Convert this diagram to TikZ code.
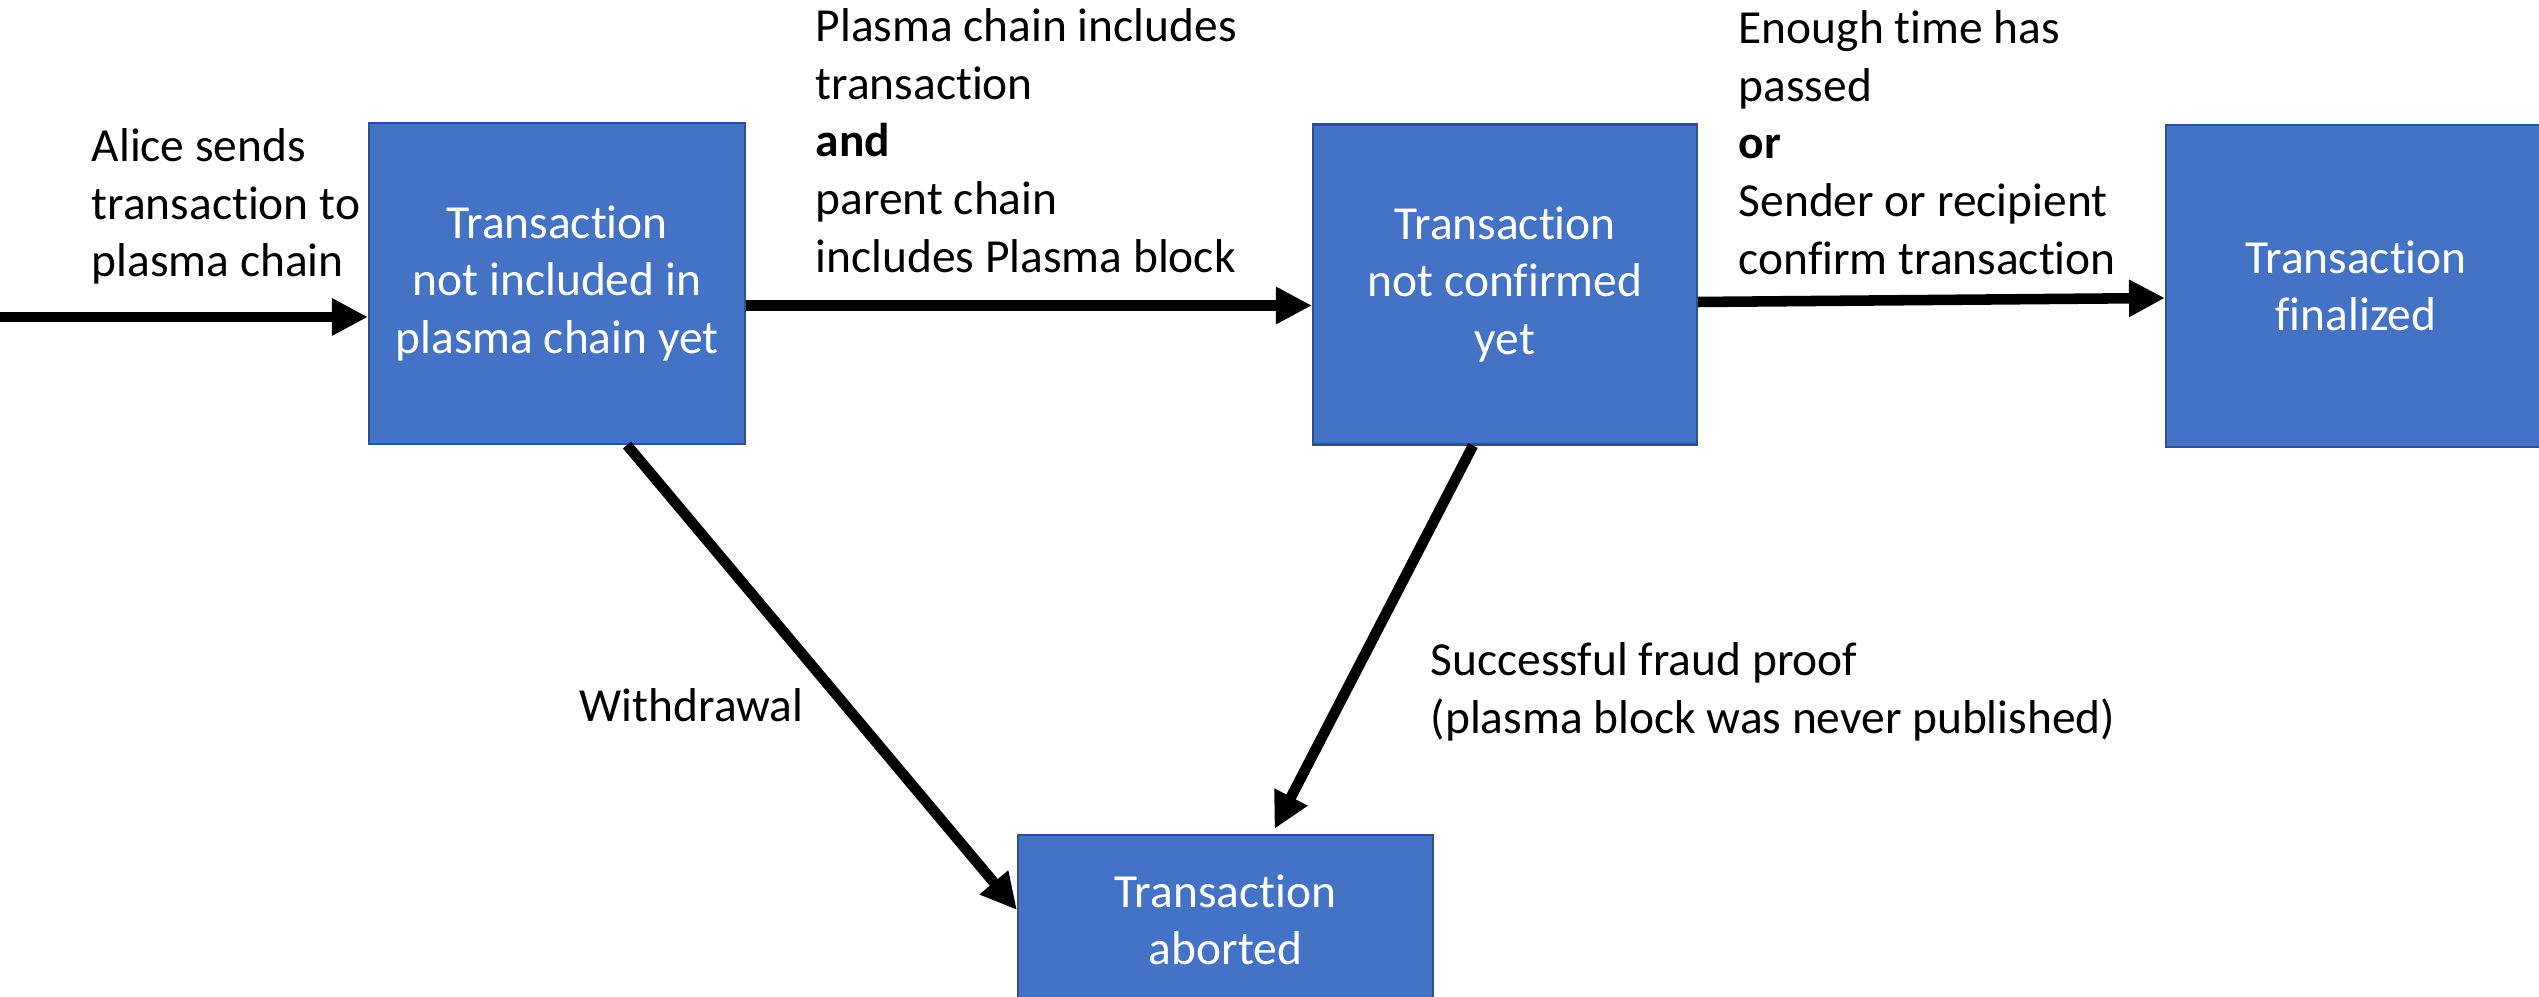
\documentclass[tikz,border=0pt]{standalone}
\usepackage{fontspec}
\setmainfont{Carlito}[Ligatures={NoCommon}]
\usetikzlibrary{arrows.meta}
\definecolor{ink}{HTML}{000000}
\definecolor{statebg}{HTML}{4472C4}
\definecolor{stateline}{HTML}{2F528F}

\begin{document}
\begin{tikzpicture}[x=1cm,y=-1cm,text=ink,
  state/.style={draw=stateline,fill=statebg,line width=.6pt,text=white,
    align=center,inner sep=2pt,font=\fontsize{13.5}{16.4}\selectfont},
  cond/.style={anchor=north west,align=left,inner sep=0pt,
    font=\fontsize{13.5}{16.4}\selectfont},
  flow/.style={-{Triangle[length=3.6mm,width=3.5mm]},line width=3pt,draw=ink}]
\useasboundingbox (0,0) rectangle (25.39,9.97);

% states of a plasma transaction
\node[state,minimum width=3.76cm,minimum height=3.21cm] (pending) at (5.57,2.835)
  {Transaction\\not included in\\plasma chain yet};
\node[state,minimum width=3.84cm,minimum height=3.2cm] (included) at (15.05,2.845)
  {Transaction\\not confirmed\\yet};
\node[state,minimum width=3.8cm,minimum height=3.22cm] (final) at (23.56,2.86)
  {Transaction\\finalized};
\node[state,minimum width=4.15cm,minimum height=1.7cm] (abort) at (12.255,9.2)
  {Transaction\\aborted};

% conditions on the transitions
\node[cond] (send) at (.91,1.28) {Alice sends\\transaction to\\plasma chain};
\node[cond] (incl) at (8.15,.08)
  {Plasma chain includes\\transaction\\\textbf{and}\\parent chain\\includes Plasma block};
\node[cond] (wait) at (17.38,.10)
  {Enough time has\\passed\\\textbf{or}\\Sender or recipient\\confirm transaction};
\node[cond] (exit) at (5.79,6.88) {Withdrawal};
\node[cond] (fraud) at (14.30,6.42)
  {Successful fraud proof\\(plasma block was never published)};

% transitions
\coordinate (start) at (0,3.17);
\draw[flow] (start)--(start -| pending.west);
\draw[flow] ([yshift=-2.2mm]pending.east)--([yshift=-2.2mm]pending.east -| included.west);
\draw[flow] ([yshift=-1.75mm]included.east)--([yshift=-1.2mm]final.west);
\draw[flow] ([xshift=7mm]pending.south)--([yshift=-7.6mm]abort.north west);
\draw[flow] ([xshift=-3.2mm]included.south)--([xshift=4.9mm,yshift=.5mm]abort.north);
\end{tikzpicture}
\end{document}
